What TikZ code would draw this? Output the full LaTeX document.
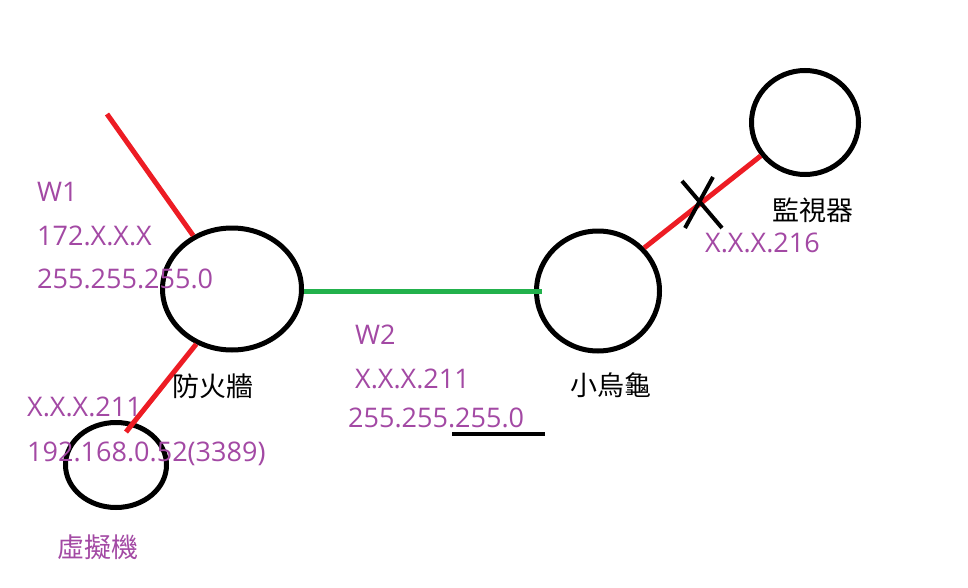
\documentclass[tikz,border=0pt]{standalone}
\usepackage{fontspec}
\setmainfont{Open Sans}
\newfontfamily\cjk{Noto Sans CJK TC}
\usetikzlibrary{shapes.geometric}
\definecolor{lblpurple}{RGB}{163,73,164}
\definecolor{linkred}{RGB}{237,28,36}
\definecolor{linkgreen}{RGB}{34,177,76}
\tikzset{
  dev/.style={draw=black, line width=5pt, ellipse, inner sep=0pt},
  lbl/.style={anchor=base west, inner sep=0pt, text=lblpurple, font=\fontsize{27}{32}\selectfont},
  cjklbl/.style={anchor=base west, inner sep=0pt, font=\fontsize{27}{32}\selectfont\cjk},
  redlink/.style={draw=linkred, line width=5pt},
  greenlink/.style={draw=linkgreen, line width=5pt},
  crossmark/.style={draw=black, line width=4pt},
}
\begin{document}
\begin{tikzpicture}[x=1pt, y=-1pt]
\useasboundingbox[fill=white] (0,0) rectangle (968,588);
% devices
\node[dev, minimum width=139pt, minimum height=122pt] (fw) at (232,289) {};
\node[dev, minimum width=101pt, minimum height=85pt] (vm) at (116,465) {};
\node[dev, minimum width=123pt, minimum height=120pt] (turtle) at (598,291) {};
\node[dev, minimum width=107pt, minimum height=104pt] (mon) at (805,122.5) {};
% free ends
\coordinate (wan) at (107,114);
\coordinate (vmend) at (126,432);
\coordinate (xa1) at (682,181);
\coordinate (xa2) at (722,228);
\coordinate (xb1) at (713,177);
\coordinate (xb2) at (685,228);
\coordinate (ulA) at (452,434);
\coordinate (ulB) at (545,434);
% links
\draw[redlink] (wan) -- (fw.126);
\draw[redlink] (fw.237) -- (vmend);
\draw[greenlink] (fw.east |- turtle.west) -- ([xshift=8pt]turtle.west);
\draw[redlink] (turtle.43) -- (mon.217);
\draw[crossmark] (xa1) -- (xa2);
\draw[crossmark] (xb1) -- (xb2);
\draw[draw=black, line width=4pt] (ulA) -- (ulB);
% labels
\node[lbl] (w1) at (37,201) {W1};
\node[lbl] (w1ip) at (37,245) {172.X.X.X};
\node[lbl] (w1mask) at (37,288) {255.255.255.0};
\node[cjklbl] (fwname) at (172,396) {防火牆};
\node[lbl] (vmip1) at (27,416) {X.X.X.211};
\node[lbl] (vmip2) at (27,461) {192.168.0.52(3389)};
\node[cjklbl, text=lblpurple] (vmname) at (57,557) {虛擬機};
\node[lbl] (w2) at (355,344) {W2};
\node[lbl] (w2ip) at (355,388) {X.X.X.211};
\node[lbl] (w2mask) at (348,427) {255.255.255.0};
\node[cjklbl] (turtlename) at (570,395) {小烏龜};
\node[cjklbl] (monname) at (772,220) {監視器};
\node[lbl] (monip) at (705,252) {X.X.X.216};
\end{tikzpicture}
\end{document}
